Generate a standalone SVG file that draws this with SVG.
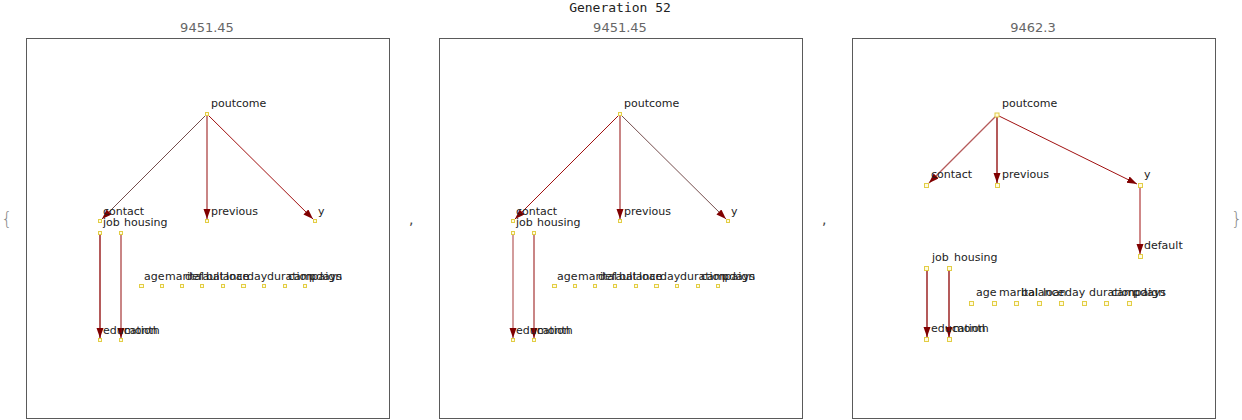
<svg xmlns="http://www.w3.org/2000/svg" width="1242" height="420" viewBox="0 0 1242 420">
<style>
.bg{fill:#ffffff}
.frame{fill:none;stroke:#5a5a5a;stroke-width:1}
.title{font-family:"DejaVu Sans Mono","Liberation Mono",monospace;font-size:13px;fill:#222;text-anchor:middle}
.score{font-family:"DejaVu Sans","Liberation Sans",sans-serif;font-size:13px;fill:#666;text-anchor:middle}
.lbl{font-family:"DejaVu Sans","Liberation Sans",sans-serif;font-size:11px;fill:#222}
.punct{font-family:"DejaVu Sans","Liberation Sans",sans-serif;font-size:14px;fill:#444}
.brace{font-family:"DejaVu Sans","Liberation Sans",sans-serif;font-size:18px;fill:#888;font-weight:200}
.n{fill:#fffbe0;stroke:#e2cd45;stroke-width:1}
.e-thin{fill:none;stroke:#3a0000;stroke-width:0.7}
.e-dark{fill:none;stroke:#a01010;stroke-width:1}
.e-mid{fill:none;stroke:#951515;stroke-width:1.4}
.e-light{fill:none;stroke:#c98585;stroke-width:2}
.e-soft{fill:none;stroke:#b55a5a;stroke-width:1.2}
</style>
<defs>
<marker id="ah" markerUnits="userSpaceOnUse" markerWidth="11" markerHeight="8" refX="10" refY="3.5" orient="auto">
<path d="M0,0 L10,3.5 L0,7 z" fill="#800000"/>
</marker>
</defs>
<rect class="bg" x="0" y="0" width="1242" height="420"/>
<text class="title" x="620" y="12">Generation 52</text>
<text class="brace" x="1" y="225">{</text>
<text class="brace" x="1231" y="225">}</text>
<text class="punct" x="409" y="224">,</text>
<text class="punct" x="822" y="224">,</text>

<!-- Panel 1 -->
<g id="panel1">
<text class="score" x="207" y="32">9451.45</text>
<rect class="frame" x="26.5" y="38.5" width="363" height="380"/>
</g>
<g id="p1-edges">
<line class="e-thin" x1="207" y1="114" x2="102" y2="219" marker-end="url(#ah)"/>
<line class="e-light" x1="207" y1="115" x2="207" y2="219" marker-end="url(#ah)"/>
<line class="e-dark" x1="207" y1="114" x2="313" y2="219" marker-end="url(#ah)"/>
<line class="e-mid" x1="100" y1="235" x2="100" y2="338" marker-end="url(#ah)"/>
<line class="e-light" x1="121" y1="235" x2="121" y2="338" marker-end="url(#ah)"/>
</g>
<g id="p1-nodes">
<g id="p1-poutcome"><rect class="n" x="205.5" y="112.5" width="3" height="3"/><text class="lbl" x="211" y="107">poutcome</text></g>
<g id="p1-contact"><rect class="n" x="98.5" y="219.5" width="3" height="3"/><text class="lbl" x="103" y="215">contact</text></g>
<g id="p1-previous"><rect class="n" x="205.5" y="219.5" width="3" height="3"/><text class="lbl" x="211" y="215">previous</text></g>
<g id="p1-y"><rect class="n" x="313.5" y="219.5" width="3" height="3"/><text class="lbl" x="318" y="215">y</text></g>
<g id="p1-job"><rect class="n" x="98.5" y="231.5" width="3" height="3"/><text class="lbl" x="103" y="226">job</text></g>
<g id="p1-housing"><rect class="n" x="119.5" y="231.5" width="3" height="3"/><text class="lbl" x="124" y="226">housing</text></g>
<g id="p1-age"><rect class="n" x="139.5" y="284.5" width="4" height="3"/><text class="lbl" x="144" y="280">age</text></g>
<g id="p1-marital"><rect class="n" x="160.5" y="284.5" width="3" height="3"/><text class="lbl" x="165" y="280">marital</text></g>
<g id="p1-default"><rect class="n" x="180.5" y="284.5" width="3" height="3"/><text class="lbl" x="185" y="280">default</text></g>
<g id="p1-balance"><rect class="n" x="200.5" y="284.5" width="3" height="3"/><text class="lbl" x="206" y="280">balance</text></g>
<g id="p1-loan"><rect class="n" x="221.5" y="284.5" width="3" height="3"/><text class="lbl" x="226" y="280">loan</text></g>
<g id="p1-day"><rect class="n" x="241.5" y="284.5" width="4" height="3"/><text class="lbl" x="247" y="280">day</text></g>
<g id="p1-duration"><rect class="n" x="262.5" y="284.5" width="3" height="3"/><text class="lbl" x="267" y="280">duration</text></g>
<g id="p1-campaign"><rect class="n" x="283.5" y="284.5" width="3" height="3"/><text class="lbl" x="288" y="280">campaign</text></g>
<g id="p1-pdays"><rect class="n" x="303.5" y="284.5" width="3" height="3"/><text class="lbl" x="309" y="280">pdays</text></g>
<g id="p1-education"><rect class="n" x="98.5" y="338.5" width="3" height="3"/><text class="lbl" x="103" y="334">education</text></g>
<g id="p1-month"><rect class="n" x="119.5" y="338.5" width="3" height="3"/><text class="lbl" x="124" y="334">month</text></g>
</g>

<!-- Panel 2 -->
<g id="panel2">
<text class="score" x="620" y="32">9451.45</text>
<rect class="frame" x="439.5" y="38.5" width="363" height="380"/>
</g>
<g id="p2-edges">
<line class="e-dark" x1="620" y1="114" x2="515" y2="219" marker-end="url(#ah)"/>
<line class="e-light" x1="620" y1="115" x2="620" y2="219" marker-end="url(#ah)"/>
<line class="e-thin" x1="620" y1="114" x2="726" y2="219" marker-end="url(#ah)"/>
<line class="e-soft" x1="513" y1="235" x2="513" y2="338" marker-end="url(#ah)"/>
<line class="e-light" x1="534" y1="235" x2="534" y2="338" marker-end="url(#ah)"/>
</g>
<g id="p2-nodes">
<g id="p2-poutcome"><rect class="n" x="618.5" y="112.5" width="3" height="3"/><text class="lbl" x="624" y="107">poutcome</text></g>
<g id="p2-contact"><rect class="n" x="511.5" y="219.5" width="3" height="3"/><text class="lbl" x="516" y="215">contact</text></g>
<g id="p2-previous"><rect class="n" x="618.5" y="219.5" width="3" height="3"/><text class="lbl" x="624" y="215">previous</text></g>
<g id="p2-y"><rect class="n" x="726.5" y="219.5" width="3" height="3"/><text class="lbl" x="731" y="215">y</text></g>
<g id="p2-job"><rect class="n" x="511.5" y="231.5" width="3" height="3"/><text class="lbl" x="516" y="226">job</text></g>
<g id="p2-housing"><rect class="n" x="532.5" y="231.5" width="3" height="3"/><text class="lbl" x="537" y="226">housing</text></g>
<g id="p2-age"><rect class="n" x="552.5" y="284.5" width="4" height="3"/><text class="lbl" x="557" y="280">age</text></g>
<g id="p2-marital"><rect class="n" x="573.5" y="284.5" width="3" height="3"/><text class="lbl" x="578" y="280">marital</text></g>
<g id="p2-default"><rect class="n" x="593.5" y="284.5" width="3" height="3"/><text class="lbl" x="598" y="280">default</text></g>
<g id="p2-balance"><rect class="n" x="613.5" y="284.5" width="3" height="3"/><text class="lbl" x="619" y="280">balance</text></g>
<g id="p2-loan"><rect class="n" x="634.5" y="284.5" width="3" height="3"/><text class="lbl" x="639" y="280">loan</text></g>
<g id="p2-day"><rect class="n" x="654.5" y="284.5" width="4" height="3"/><text class="lbl" x="660" y="280">day</text></g>
<g id="p2-duration"><rect class="n" x="675.5" y="284.5" width="3" height="3"/><text class="lbl" x="680" y="280">duration</text></g>
<g id="p2-campaign"><rect class="n" x="696.5" y="284.5" width="3" height="3"/><text class="lbl" x="701" y="280">campaign</text></g>
<g id="p2-pdays"><rect class="n" x="716.5" y="284.5" width="3" height="3"/><text class="lbl" x="722" y="280">pdays</text></g>
<g id="p2-education"><rect class="n" x="511.5" y="338.5" width="3" height="3"/><text class="lbl" x="516" y="334">education</text></g>
<g id="p2-month"><rect class="n" x="532.5" y="338.5" width="3" height="3"/><text class="lbl" x="537" y="334">month</text></g>
</g>

<!-- Panel 3 -->
<g id="panel3">
<text class="score" x="1033" y="32">9462.3</text>
<rect class="frame" x="852.5" y="38.5" width="363" height="380"/>
</g>
<g id="p3-edges">
<line class="e-soft" x1="996" y1="116" x2="929" y2="183" marker-end="url(#ah)"/>
<line class="e-mid" x1="997" y1="117" x2="997" y2="183" marker-end="url(#ah)"/>
<line class="e-dark" x1="999" y1="116" x2="1137" y2="184" marker-end="url(#ah)"/>
<line class="e-dark" x1="1140" y1="188" x2="1140" y2="254" marker-end="url(#ah)"/>
<line class="e-mid" x1="927" y1="271" x2="927" y2="337" marker-end="url(#ah)"/>
<line class="e-mid" x1="949" y1="271" x2="949" y2="337" marker-end="url(#ah)"/>
</g>
<g id="p3-nodes">
<g id="p3-poutcome"><rect class="n" x="995" y="113" width="4" height="4"/><text class="lbl" x="1002" y="107">poutcome</text></g>
<g id="p3-contact"><rect class="n" x="924.5" y="183.5" width="4" height="4"/><text class="lbl" x="931" y="178">contact</text></g>
<g id="p3-previous"><rect class="n" x="995.5" y="183.5" width="4" height="4"/><text class="lbl" x="1002" y="178">previous</text></g>
<g id="p3-y"><rect class="n" x="1138.5" y="183.5" width="4" height="4"/><text class="lbl" x="1144" y="178">y</text></g>
<g id="p3-default"><rect class="n" x="1138.5" y="254.5" width="4" height="4"/><text class="lbl" x="1144" y="249">default</text></g>
<g id="p3-job"><rect class="n" x="924.5" y="266.5" width="4" height="4"/><text class="lbl" x="932" y="261">job</text></g>
<g id="p3-housing"><rect class="n" x="947.5" y="266.5" width="4" height="4"/><text class="lbl" x="954" y="261">housing</text></g>
<g id="p3-age"><rect class="n" x="969.5" y="301.5" width="4" height="4"/><text class="lbl" x="976" y="296">age</text></g>
<g id="p3-marital"><rect class="n" x="992.5" y="301.5" width="4" height="4"/><text class="lbl" x="999" y="296">marital</text></g>
<g id="p3-balance"><rect class="n" x="1014.5" y="301.5" width="4" height="4"/><text class="lbl" x="1021" y="296">balance</text></g>
<g id="p3-loan"><rect class="n" x="1037.5" y="301.5" width="4" height="4"/><text class="lbl" x="1043" y="296">loan</text></g>
<g id="p3-day"><rect class="n" x="1059.5" y="301.5" width="4" height="4"/><text class="lbl" x="1065" y="296">day</text></g>
<g id="p3-duration"><rect class="n" x="1082.5" y="301.5" width="4" height="4"/><text class="lbl" x="1089" y="296">duration</text></g>
<g id="p3-campaign"><rect class="n" x="1104.5" y="301.5" width="4" height="4"/><text class="lbl" x="1111" y="296">campaign</text></g>
<g id="p3-pdays"><rect class="n" x="1127.5" y="301.5" width="4" height="4"/><text class="lbl" x="1133" y="296">pdays</text></g>
<g id="p3-education"><rect class="n" x="924.5" y="337.5" width="4" height="4"/><text class="lbl" x="931" y="332">education</text></g>
<g id="p3-month"><rect class="n" x="947.5" y="337.5" width="4" height="4"/><text class="lbl" x="953" y="332">month</text></g>
</g>
</svg>
